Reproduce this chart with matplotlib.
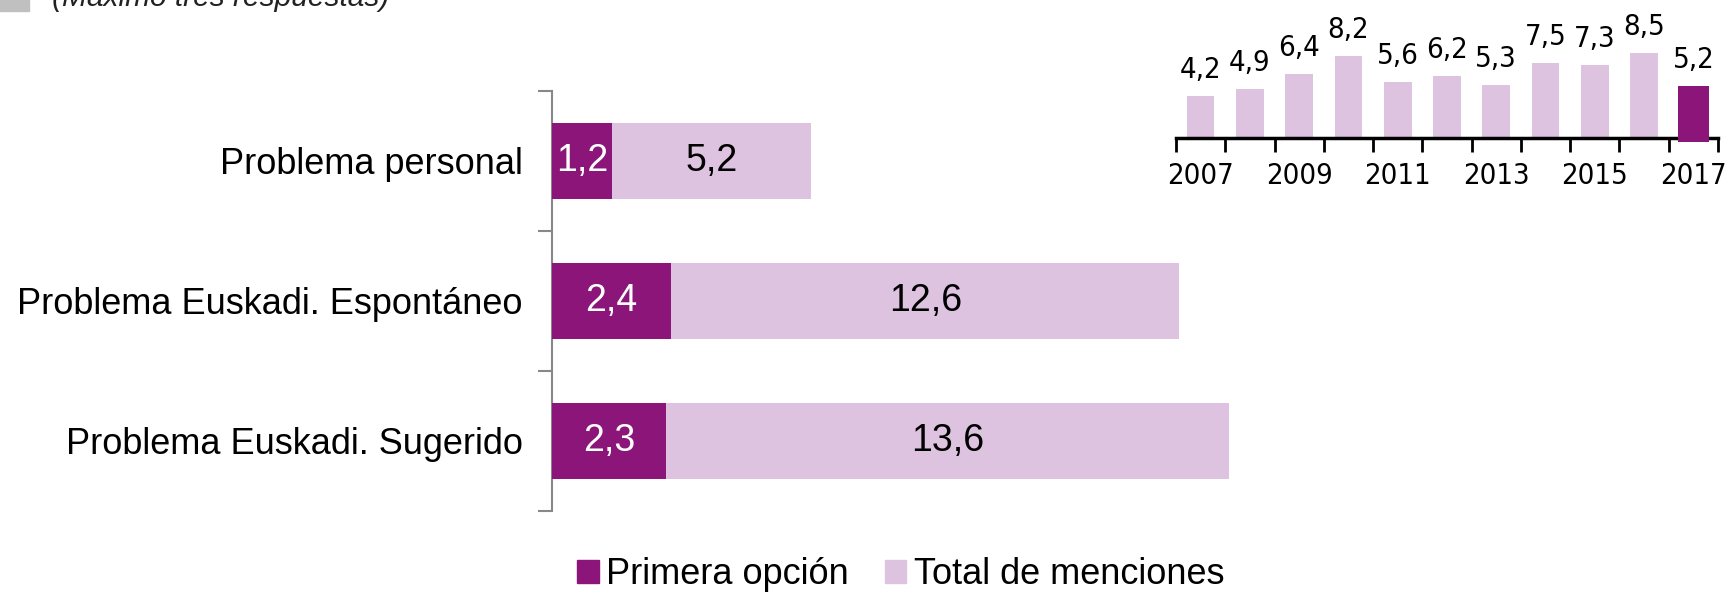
import matplotlib
matplotlib.use('Agg')
import matplotlib.pyplot as plt
from matplotlib.patches import Patch

# ---------------------------
# Data
# ---------------------------
categories = ['Problema personal', 'Problema Euskadi. Espontáneo', 'Problema Euskadi. Sugerido']
primera = [1.2, 2.4, 2.3]
total = [5.2, 12.6, 13.6]

years = [2007, 2008, 2009, 2010, 2011, 2012, 2013, 2014, 2015, 2016, 2017]
year_values = [4.2, 4.9, 6.4, 8.2, 5.6, 6.2, 5.3, 7.5, 7.3, 8.5, 5.2]
year_labels = ['2007', '', '2009', '', '2011', '', '2013', '', '2015', '', '2017']

dark = '#8b1579'
light = '#dec3e0'

def fmt(v):
    return f'{v:.1f}'.replace('.', ',')

plt.rcParams['font.family'] = ['Liberation Sans', 'DejaVu Sans']
narrow = dict(family='DejaVu Sans', stretch='condensed')

W, H = 1732, 595
fig = plt.figure(figsize=(W / 100, H / 100), dpi=100)

# ---------------------------
# Main horizontal bars
# ---------------------------
ax = fig.add_axes([552 / W, 1 - 511 / H, 682 / W, 420 / H])
ypos = list(range(len(categories)))
ax.barh(ypos, total, height=0.54, color=light, zorder=2)
ax.barh(ypos, primera, height=0.54, color=dark, zorder=3)
for y, p, t in zip(ypos, primera, total):
    ax.text(p / 2, y, fmt(p), ha='center', va='center', color='white', fontsize=27, zorder=4)
    ax.text((p + t) / 2, y, fmt(t), ha='center', va='center', color='black', fontsize=27, zorder=4)

ax.set_xlim(0, 13.7)
ax.set_ylim(2.5, -0.5)
ax.set_yticks(ypos)
ax.set_yticklabels(categories, fontsize=26)
ax.tick_params(axis='y', which='major', length=0, pad=21)
ax.set_yticks([-0.5, 0.5, 1.5, 2.5], minor=True)
ax.tick_params(axis='y', which='minor', length=10, width=1.5, color='#888888')
ax.set_xticks([])
for s in ['top', 'right', 'bottom']:
    ax.spines[s].set_visible(False)
ax.spines['left'].set_color('#888888')
ax.spines['left'].set_linewidth(1.5)

# ---------------------------
# Inset: evolution by year
# ---------------------------
ax2 = fig.add_axes([1176 / W, 1 - 138 / H, 542 / W, 100 / H])
xs = list(range(len(years)))
ax2.bar(xs[:-1], year_values[:-1], width=0.56, color=light, zorder=2)
ax2.bar(xs[-1], year_values[-1] + 0.4, bottom=-0.4, width=0.62, color=dark, zorder=4, clip_on=False)
for x, v in zip(xs, year_values):
    ax2.text(x, v + 1.2, fmt(v), ha='center', va='bottom', fontsize=21, **narrow)
ax2.set_xlim(-0.5, len(years) - 0.5)
ax2.set_ylim(0, 10)
ax2.set_yticks([])
ax2.set_xticks(xs)
ax2.set_xticklabels(year_labels, fontsize=21, **narrow)
ax2.tick_params(axis='x', which='major', length=0, pad=17)
ax2.set_xticks([x - 0.5 for x in xs] + [xs[-1] + 0.5], minor=True)
ax2.tick_params(axis='x', which='minor', length=10, width=2, color='black')
for s in ['top', 'right', 'left']:
    ax2.spines[s].set_visible(False)
ax2.spines['bottom'].set_linewidth(2.5)
ax2.spines['bottom'].set_zorder(3)

# ---------------------------
# Legend
# ---------------------------
handles = [Patch(color=dark, label='Primera opción'), Patch(color=light, label='Total de menciones')]
fig.legend(handles=handles, loc='center', bbox_to_anchor=(0.52, 1 - 575 / H), ncol=2, frameon=False,
           fontsize=26, handlelength=0.6, handleheight=0.6, handletextpad=0.2, columnspacing=1.0)

# Cut-off header at top-left
fig.patches.append(plt.Rectangle((0, 1 - 11 / H), 29 / W, 11 / H, transform=fig.transFigure,
                                 color='#c0c0c0', figure=fig))
fig.text(52 / W, 1 - 6 / H, '(Máximo tres respuestas)', fontsize=21.5, style='italic',
         ha='left', va='baseline', color='#222222')

fig.savefig('out.png', dpi=100)
